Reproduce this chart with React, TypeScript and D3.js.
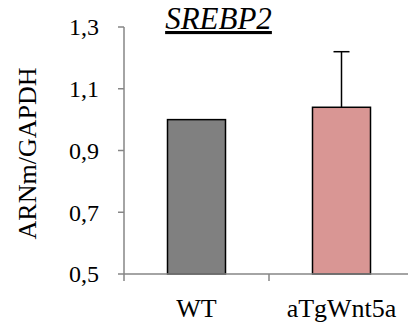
import React from "react";
import * as d3 from "d3";

const categories = ["WT", "aTgWnt5a"];
const values = [1.0, 1.04];
const errors = [0, 0.18];
const yTicks = [0.5, 0.7, 0.9, 1.1, 1.3];
const colors = ["#808080", "#d99694"];
const title = "SREBP2";
const yLabel = "ARNm/GAPDH";

const font = "Liberation Serif, Times New Roman, serif";

export default function App() {
  const W = 408, H = 324;
  const left = 124, right = 414, top = 27, bottom = 274;
  const x = d3.scaleBand<string>().domain(categories).range([left, right]).paddingInner(0).paddingOuter(0);
  const y = d3.scaleLinear().domain([0.5, 1.3]).range([bottom, top]);
  const bw = x.bandwidth() * 0.4;
  const axisColor = "#868686";
  const ts = { fontFamily: font };
  return (
    <svg width={W} height={H} style={{ position: "absolute", left: 0, top: 0 }}>
      <rect width={W} height={H} fill="#fff" />
      {categories.map((c, i) => {
        const cx = (x(c) as number) + x.bandwidth() / 2;
        return (
          <g key={c}>
            <rect x={cx - bw / 2} y={y(values[i])} width={bw} height={bottom - y(values[i])}
              fill={colors[i]} stroke="#000" strokeWidth={1.5} />
            {errors[i] > 0 && (
              <g stroke="#000" strokeWidth={1.5}>
                <line x1={cx} x2={cx} y1={y(values[i])} y2={y(values[i] + errors[i])} />
                <line x1={cx - 8} x2={cx + 8} y1={y(values[i] + errors[i])} y2={y(values[i] + errors[i])} />
              </g>
            )}
          </g>
        );
      })}
      <line x1={left} x2={left} y1={top} y2={bottom} stroke={axisColor} strokeWidth={1.5} />
      {yTicks.map((t) => (
        <g key={t}>
          <line x1={left - 6} x2={left} y1={y(t)} y2={y(t)} stroke={axisColor} strokeWidth={1.5} />
          <text x={99} y={y(t)} dy="0.35em" textAnchor="end" fontSize={24} fill="#000" style={ts}>
            {t.toFixed(1).replace(".", ",")}
          </text>
        </g>
      ))}
      <line x1={left} x2={W} y1={bottom} y2={bottom} stroke={axisColor} strokeWidth={1.5} />
      {[...categories.map((c) => x(c) as number), right].map((p, i) => (
        <line key={i} x1={p} x2={p} y1={bottom} y2={bottom + 7} stroke={axisColor} strokeWidth={1.5} />
      ))}
      {categories.map((c) => (
        <text key={c} x={(x(c) as number) + x.bandwidth() / 2} y={317} textAnchor="middle" fontSize={26} fill="#000" style={ts}>
          {c}
        </text>
      ))}
      <text transform={`translate(36, ${(top + bottom) / 2 + 3}) rotate(-90)`} textAnchor="middle" fontSize={26} fill="#000" style={ts}>
        {yLabel}
      </text>
      <text x={218.5} y={29} textAnchor="middle" fontSize={31} fontStyle="italic" textDecoration="underline" fill="#000" style={ts}>
        {title}
      </text>
    </svg>
  );
}
